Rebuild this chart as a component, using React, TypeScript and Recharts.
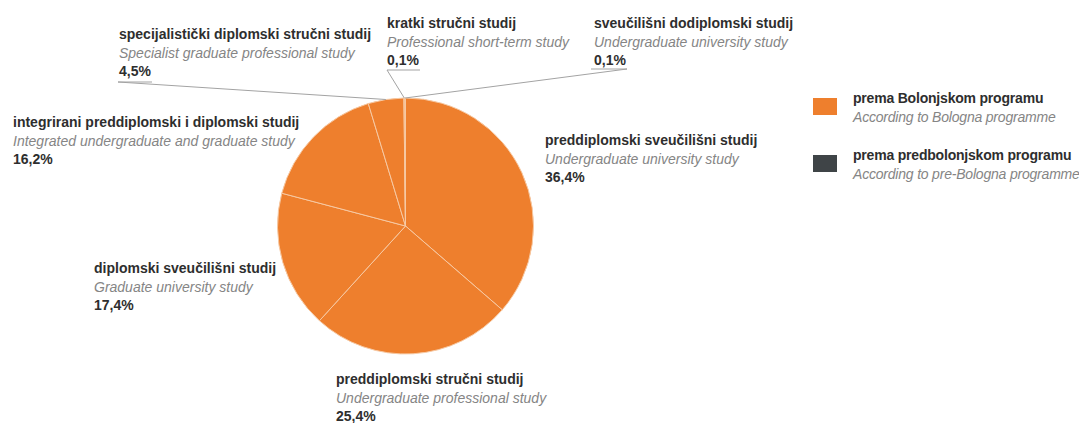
import { PieChart, Pie, Cell, Legend } from 'recharts';

// study types, in clockwise order from 12 o'clock
const studyNames = [
  'preddiplomski sveučilišni studij',
  'preddiplomski stručni studij',
  'diplomski sveučilišni studij',
  'integrirani preddiplomski i diplomski studij',
  'specijalistički diplomski stručni studij',
  'kratki stručni studij',
  'sveučilišni dodiplomski studij',
];
const studyNamesEn = [
  'Undergraduate university study',
  'Undergraduate professional study',
  'Graduate university study',
  'Integrated undergraduate and graduate study',
  'Specialist graduate professional study',
  'Professional short-term study',
  'Undergraduate university study',
];
const shares = [36.4, 25.4, 17.4, 16.2, 4.5, 0.1, 0.1];
const programmes = ['bologna', 'bologna', 'bologna', 'bologna', 'bologna', 'bologna', 'bologna'];

const legendNames = ['prema Bolonjskom programu', 'prema predbolonjskom programu'];
const legendNamesEn = ['According to Bologna programme', 'According to pre-Bologna programme'];
const legendKeys = ['bologna', 'pre'];

const COLORS: Record<string, string> = { bologna: '#ee7f2d', pre: '#3f4447' };
const FONT = '"Liberation Sans", Arial, sans-serif';
const DARK = '#2e2e2e';
const GREY = '#858585';

const data = studyNames.map((name, i) => ({
  name,
  en: studyNamesEn[i],
  value: shares[i],
  programme: programmes[i],
}));

// label block position (x, baseline of first line); leader = underline + pointer start
const labelLayout: any[] = [
  { x: 545, y: 145 },
  { x: 336, y: 384 },
  { x: 94, y: 273 },
  { x: 13, y: 127 },
  { x: 119, y: 39, leader: { x1: 118, x2: 152, y: 82 } },
  { x: 387, y: 28, leader: { x1: 387, x2: 420, y: 70 } },
  { x: 594, y: 28, leader: { x1: 627, x2: 591, y: 69 } },
];

const fmt = (v: number) => v.toFixed(1).replace('.', ',') + '%';

const RAD = Math.PI / 180;

function renderLabel(props: any) {
  const { cx, cy, midAngle, outerRadius, index } = props;
  const d = data[index];
  const pos = labelLayout[index];
  const leader = pos.leader;
  let line = null;
  if (leader) {
    const px = cx + outerRadius * Math.cos(-midAngle * RAD);
    const py = cy + outerRadius * Math.sin(-midAngle * RAD);
    line = (
      <path
        d={`M${leader.x2},${leader.y}L${leader.x1},${leader.y}L${px},${py}`}
        stroke="#a3a3a3"
        strokeWidth={1}
        fill="none"
      />
    );
  }
  return (
    <g key={`lbl-${index}`}>
      {line}
      <text x={pos.x} y={pos.y} fontFamily={FONT} fontSize={14} fontWeight="bold" fill={DARK}>
        {d.name}
      </text>
      <text x={pos.x} y={pos.y + 19} fontFamily={FONT} fontSize={14} fontStyle="italic" fill={GREY}>
        {d.en}
      </text>
      <text x={pos.x} y={pos.y + 37} fontFamily={FONT} fontSize={14} fontWeight="bold" fill={DARK}>
        {fmt(d.value)}
      </text>
    </g>
  );
}

function LegendBox() {
  return (
    <div style={{ fontFamily: FONT, fontSize: 14, lineHeight: '19px', letterSpacing: '-0.2px' }}>
      {legendKeys.map((k, i) => (
        <div key={k} style={{ display: 'flex', alignItems: 'flex-start', marginBottom: 19 }}>
          <div
            style={{
              width: 24,
              height: 17,
              flexShrink: 0,
              marginTop: 9,
              background: COLORS[k],
              marginRight: 16,
            }}
          />
          <div style={{ whiteSpace: 'nowrap' }}>
            <div style={{ fontWeight: 'bold', color: DARK }}>{legendNames[i]}</div>
            <div style={{ fontStyle: 'italic', color: GREY }}>{legendNamesEn[i]}</div>
          </div>
        </div>
      ))}
    </div>
  );
}

export default function App() {
  return (
    <div style={{ position: 'absolute', left: 0, top: 0, background: '#fff' }}>
      <PieChart width={1079} height={423} margin={{ top: 0, right: 0, bottom: 0, left: 0 }}>
        <Pie
          data={data}
          dataKey="value"
          nameKey="name"
          cx={405.5}
          cy={226}
          outerRadius={128}
          startAngle={90}
          endAngle={-270}
          stroke="#f7c9a3"
          strokeWidth={1}
          label={renderLabel}
          labelLine={false}
          isAnimationActive={false}
        >
          {data.map((d, i) => (
            <Cell key={i} fill={COLORS[d.programme]} />
          ))}
        </Pie>
        <Legend
          content={() => <LegendBox />}
          layout="vertical"
          wrapperStyle={{ position: 'absolute', left: 813, top: 89, width: 266 }}
        />
      </PieChart>
    </div>
  );
}
